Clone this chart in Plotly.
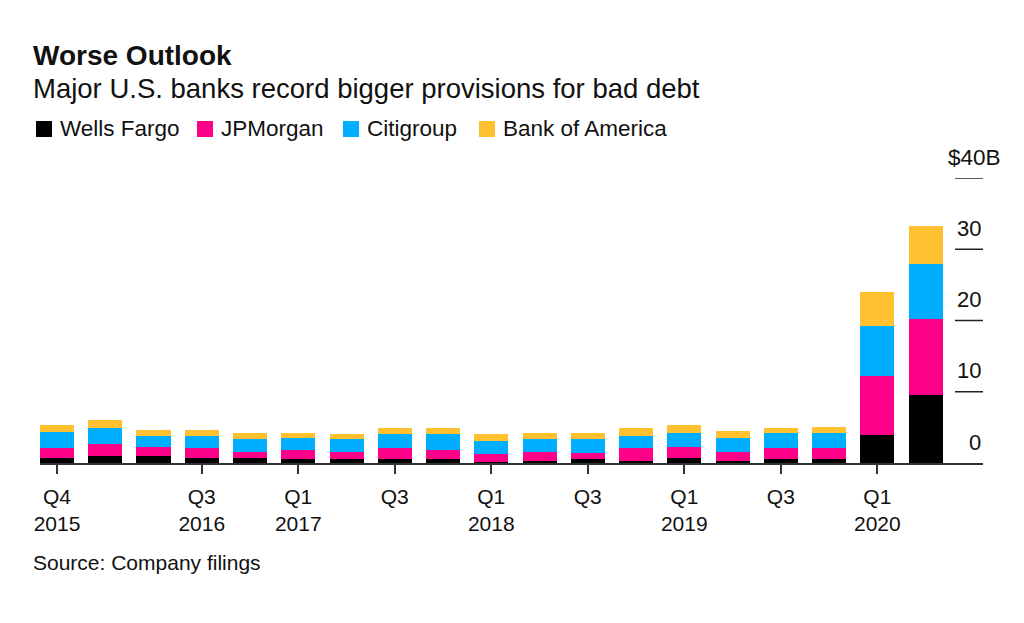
import plotly.graph_objects as go

# quarterly loan-loss provisions, $ billions
quarters = [
    "Q4 2015", "Q1 2016", "Q2 2016", "Q3 2016", "Q4 2016",
    "Q1 2017", "Q2 2017", "Q3 2017", "Q4 2017",
    "Q1 2018", "Q2 2018", "Q3 2018", "Q4 2018",
    "Q1 2019", "Q2 2019", "Q3 2019", "Q4 2019",
    "Q1 2020", "Q2 2020",
]
wells_fargo = [0.75, 0.99, 0.99, 0.75, 0.75, 0.52, 0.52, 0.52, 0.52, 0.14,
               0.33, 0.52, 0.33, 0.75, 0.33, 0.52, 0.52, 4.0, 9.5]
jpmorgan = [1.32, 1.69, 1.31, 1.32, 0.85, 1.31, 1.08, 1.55, 1.31, 1.08,
            1.27, 0.93, 1.74, 1.55, 1.27, 1.55, 1.55, 8.26, 10.67]
citigroup = [2.34, 2.20, 1.50, 1.73, 1.73, 1.74, 1.73, 1.97, 2.21, 1.92,
             1.73, 1.88, 1.73, 1.93, 1.97, 2.16, 2.16, 7.0, 7.8]
bank_of_america = [0.94, 1.13, 0.89, 0.89, 0.94, 0.70, 0.71, 0.84, 0.84, 0.90,
                   0.94, 0.94, 1.08, 1.12, 0.89, 0.65, 0.89, 4.8, 5.3]

tick_quarters = ["Q4 2015", "Q3 2016", "Q1 2017", "Q3 2017", "Q1 2018",
                 "Q3 2018", "Q1 2019", "Q3 2019", "Q1 2020"]
tick_text = ["Q4<br>2015", "Q3<br>2016", "Q1<br>2017", "Q3", "Q1<br>2018",
             "Q3", "Q1<br>2019", "Q3", "Q1<br>2020"]
y_ticks = [0, 10, 20, 30]
y_top = 40

series = [
    ("Wells Fargo", wells_fargo, "#000000"),
    ("JPMorgan", jpmorgan, "#ff0089"),
    ("Citigroup", citigroup, "#00aeff"),
    ("Bank of America", bank_of_america, "#ffc12f"),
]

FONT = "Liberation Sans, Arial, sans-serif"
W, H = 1024, 623
OFF = 8  # page body margin; positions below are screen pixels
L, R, T, B = 40, 983, 178, 463  # plot area on screen


def px(x):
    return (x - L) / (R - L)


def py(y):
    return (B - y) / (B - T)


fig = go.Figure()
for name, vals, color in series:
    fig.add_trace(go.Bar(x=quarters, y=vals, name=name,
                         marker=dict(color=color, line=dict(width=0))))

annotations = [
    dict(text="<b>Worse Outlook</b>", x=px(31), y=py(55), font=dict(size=28)),
    dict(text="Major U.S. banks record bigger provisions for bad debt",
         x=px(31), y=py(89), font=dict(size=27.5)),
    dict(text="Source: Company filings", x=px(31), y=py(562),
         font=dict(size=21)),
]
for a in annotations:
    a.update(xref="paper", yref="paper", xanchor="left", yanchor="middle",
             showarrow=False)

shapes = []
# hand-built legend row
legend_x = [36, 197, 343, 479]
for (name, _, color), lx in zip(series, legend_x):
    shapes.append(dict(type="rect", xref="paper", yref="paper",
                       x0=px(lx), x1=px(lx + 16), y0=py(137), y1=py(121),
                       fillcolor=color, line=dict(width=0)))
    annotations.append(dict(text=name, xref="paper", yref="paper",
                            x=px(lx + 22), y=py(129), xanchor="left",
                            yanchor="middle", showarrow=False,
                            font=dict(size=22.5)))

# right-hand value labels sitting above short tick lines
for v in y_ticks:
    annotations.append(dict(text=str(v), xref="paper", yref="y", x=1.0, y=v,
                            xanchor="right", yanchor="middle", yshift=21,
                            showarrow=False, font=dict(size=22)))
    if v > 0:
        shapes.append(dict(type="line", xref="paper", yref="y",
                           x0=px(955), x1=1.0, y0=v, y1=v,
                           line=dict(color="#222", width=1.5)))
annotations.append(dict(text=f"${y_top}B", xref="paper", yref="y",
                        x=px(1003), y=y_top, xanchor="right",
                        yanchor="middle", yshift=21, showarrow=False,
                        font=dict(size=22.5)))
shapes.append(dict(type="line", xref="paper", yref="y", x0=px(955), x1=1.0,
                   y0=y_top, y1=y_top, line=dict(color="#222", width=1.5)))

fig.update_layout(
    width=W,
    height=H,
    barmode="stack",
    bargap=0.295,
    showlegend=False,
    plot_bgcolor="white",
    paper_bgcolor="white",
    font=dict(family=FONT, color="#111", size=20),
    margin=dict(l=L - OFF, r=W - R + OFF, t=T - OFF, b=H - B + OFF, pad=0),
    xaxis=dict(
        range=[-0.352, 19.19],
        tickmode="array",
        tickvals=tick_quarters,
        ticktext=tick_text,
        ticks="outside",
        ticklen=9,
        tickwidth=1.5,
        tickcolor="#333",
        ticklabelstandoff=5,
        showline=True,
        linecolor="#333",
        linewidth=1.5,
        showgrid=False,
        tickfont=dict(size=21, color="#111"),
    ),
    yaxis=dict(range=[0, y_top], visible=False),
    annotations=annotations,
    shapes=shapes,
)

fig.write_html("out.html")
